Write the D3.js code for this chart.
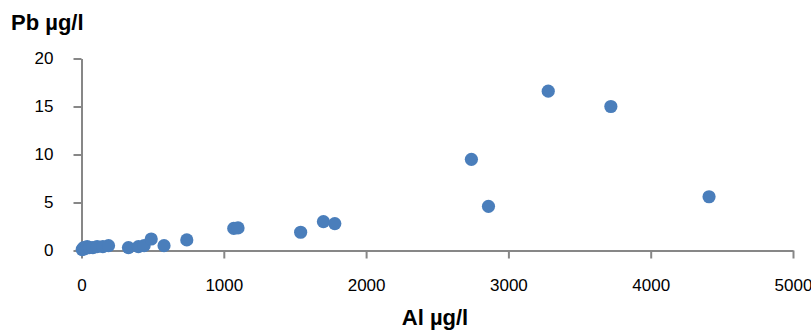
<!DOCTYPE html>
<html>
<head>
<meta charset="utf-8">
<script src="https://cdn.jsdelivr.net/npm/d3@7"></script>
<style>
  body { margin: 0; background: #fff; }
  svg { display: block; font-family: "Liberation Sans", Arial, sans-serif; }
  .axis path, .axis line { stroke: #878787; stroke-width: 2; }
  .axis text { font-size: 17px; fill: #000; }
  .title { font-size: 22px; font-weight: bold; fill: #000; }
</style>
</head>
<body>
<svg class="chart" width="811" height="331"></svg>
<script>
const width = 811;
const height = 331;

// Al (µg/l) vs Pb (µg/l)
const alValues = [5, 15, 25, 40, 55, 80, 110, 150, 190, 330, 400, 440, 490, 580, 740, 1070, 1100, 1540, 1700, 1780, 2740, 2860, 3280, 3720, 4410];
const pbValues = [0.1, 0.3, 0.2, 0.4, 0.3, 0.3, 0.4, 0.4, 0.5, 0.3, 0.4, 0.5, 1.2, 0.5, 1.1, 2.3, 2.35, 1.9, 3.0, 2.8, 9.5, 4.6, 16.6, 15.0, 5.6];
const xTicks = [0, 1000, 2000, 3000, 4000, 5000];
const yTicks = [0, 5, 10, 15, 20];

const svg = d3.select(".chart");

const x = d3.scaleLinear().domain([0, 5000]).range([81.5, 793]);
const y = d3.scaleLinear().domain([0, 20]).range([250.5, 58.5]);

svg
  .append("g")
  .attr("class", "axis")
  .attr("transform", `translate(0,${y(0)})`)
  .call(d3.axisBottom(x).tickValues(xTicks).tickSize(8).tickSizeOuter(0).tickPadding(20).tickFormat(d3.format("d")));

svg
  .append("g")
  .attr("class", "axis")
  .attr("transform", `translate(${x(0)},0)`)
  .call(d3.axisLeft(y).tickValues(yTicks).tickSize(8).tickSizeOuter(0).tickPadding(20));

svg.selectAll(".axis text").attr("font-family", null).attr("font-size", null);

const points = alValues.map((a, i) => ({ al: a, pb: pbValues[i] }));

svg
  .append("g")
  .selectAll("circle")
  .data(points)
  .enter()
  .append("circle")
  .attr("cx", (d) => x(d.al))
  .attr("cy", (d) => y(d.pb))
  .attr("r", 6.6)
  .attr("fill", "#4a7ebb");

svg.append("text").attr("class", "title").attr("x", 11).attr("y", 30).text("Pb µg/l");

svg
  .append("text")
  .attr("class", "title")
  .attr("x", 435)
  .attr("y", 325)
  .attr("text-anchor", "middle")
  .text("Al µg/l");
</script>
</body>
</html>
